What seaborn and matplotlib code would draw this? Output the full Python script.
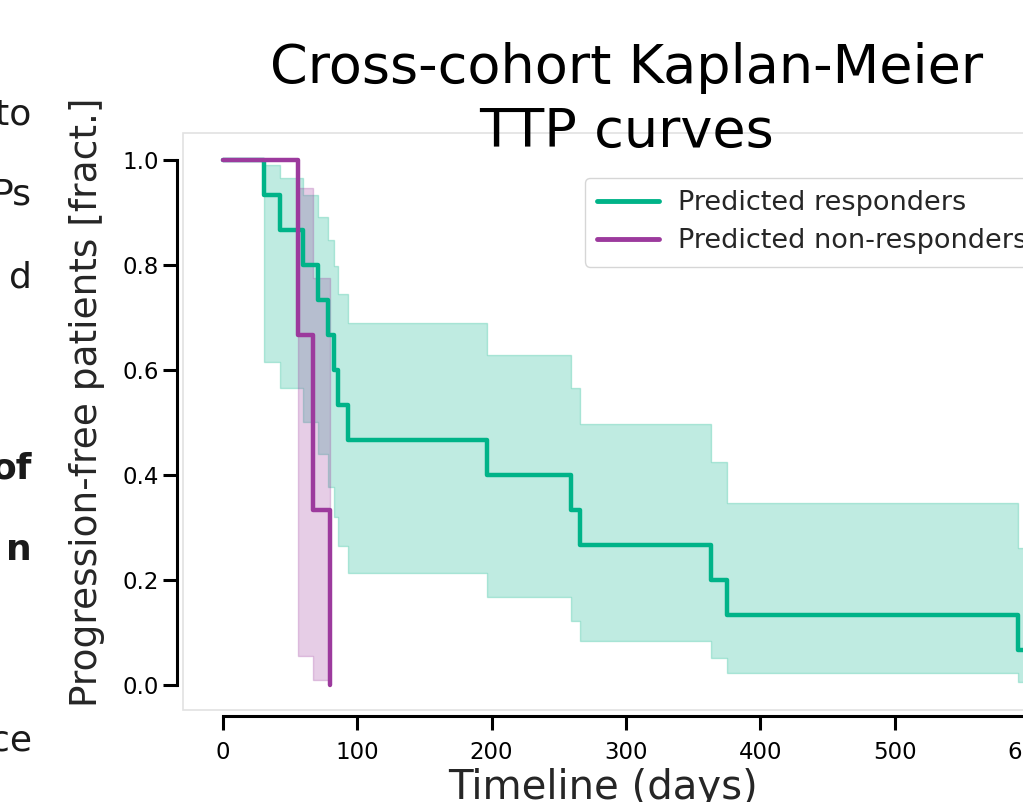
import numpy as np
import pandas as pd
import matplotlib
matplotlib.use("Agg")
import matplotlib.pyplot as plt
import seaborn as sns

# Kaplan-Meier estimates (time in days)
resp_times = [0, 30.5, 42.4, 60, 70.6, 78, 82.5, 86, 93, 197, 259.5, 266, 363, 375.6, 592, 610]
resp_surv = [1.0, 0.933, 0.867, 0.8, 0.733, 0.667, 0.6, 0.533, 0.467, 0.4, 0.333, 0.267, 0.2, 0.133, 0.067, 0.067]
resp_upper = [1.0, 0.99, 0.966, 0.932, 0.891, 0.848, 0.797, 0.745, 0.689, 0.629, 0.566, 0.497, 0.425, 0.347, 0.26, 0.26]
resp_lower = [1.0, 0.615, 0.566, 0.50, 0.44, 0.377, 0.32, 0.265, 0.213, 0.167, 0.122, 0.084, 0.051, 0.023, 0.006, 0.006]

nonresp_times = [0, 55.8, 67, 79.6]
nonresp_surv = [1.0, 0.667, 0.333, 0.0]
nonresp_upper = [1.0, 0.946, 0.775, 0.775]
nonresp_lower = [1.0, 0.054, 0.01, 0.01]

labels = ["Predicted responders", "Predicted non-responders"]
colors = ["#00b388", "#9c3a9d"]

# fragments of the neighbouring text column, cut by the screenshot
side_words = ["to", "Ps", "d", "of", "n", "ce"]
side_bold = [False, False, False, True, True, False]
side_y = [0.857, 0.757, 0.654, 0.416, 0.314, 0.077]

sns.set_theme(style="ticks")
plt.rcParams["font.family"] = ["DejaVu Sans"]

fig = plt.figure(figsize=(10.23, 8.02), dpi=100)
ax = fig.add_axes([0.1789, 0.1147, 0.8553, 0.7195])

curves = [
    (resp_times, resp_surv, resp_lower, resp_upper),
    (nonresp_times, nonresp_surv, nonresp_lower, nonresp_upper),
]
for (t, s, lo, hi), lab, col in zip(curves, labels, colors):
    df = pd.DataFrame({"t": t, "s": s, "lo": lo, "hi": hi})
    ax.fill_between(df["t"], df["lo"], df["hi"], step="post", color=col, alpha=0.25, lw=1)
    sns.lineplot(data=df, x="t", y="s", drawstyle="steps-post", color=col, lw=3.2,
                 label=lab, ax=ax, estimator=None)

ax.set_xlim(-29.6, 621.6)
ax.set_ylim(-0.048, 1.051)
ax.set_xticks([0, 100, 200, 300, 400, 500, 600])
ax.set_yticks([0.0, 0.2, 0.4, 0.6, 0.8, 1.0])
ax.tick_params(labelsize=16.5, length=10, width=2.2, colors="black")
ax.tick_params(axis="x", pad=8)
ax.set_xlabel("Timeline (days)", fontsize=29)
ax.xaxis.set_label_coords(0.48, -0.1)
ax.set_ylabel("Progression-free patients [fract.]", fontsize=27)
ax.yaxis.set_label_coords(-0.089, 0.534)

ax.patch.set_edgecolor("#e2e2e2")
ax.patch.set_linewidth(1.2)
sns.despine(ax=ax, offset=4, trim=True)
for side in ["left", "bottom"]:
    ax.spines[side].set_linewidth(2.2)
    ax.spines[side].set_color("black")

leg = ax.legend(loc="upper left", bbox_to_anchor=(0.459, 0.922), borderaxespad=0,
                fontsize=19.5, frameon=True, handlelength=2.3, borderpad=0.45,
                labelspacing=0.45, handletextpad=0.7)
leg.get_frame().set_edgecolor("#cccccc")
for line in leg.get_lines():
    line.set_linewidth(3.5)

fig.text(0.612, 0.875, "Cross-cohort Kaplan-Meier\nTTP curves", ha="center", va="center",
         fontsize=39, linespacing=1.3, color="black")

for w, b, y in zip(side_words, side_bold, side_y):
    fig.text(0.031, y, w, ha="right", va="center", fontsize=26,
             fontweight="bold" if b else "normal", color="#1a1a1a")

fig.savefig("out.png", dpi=100)
